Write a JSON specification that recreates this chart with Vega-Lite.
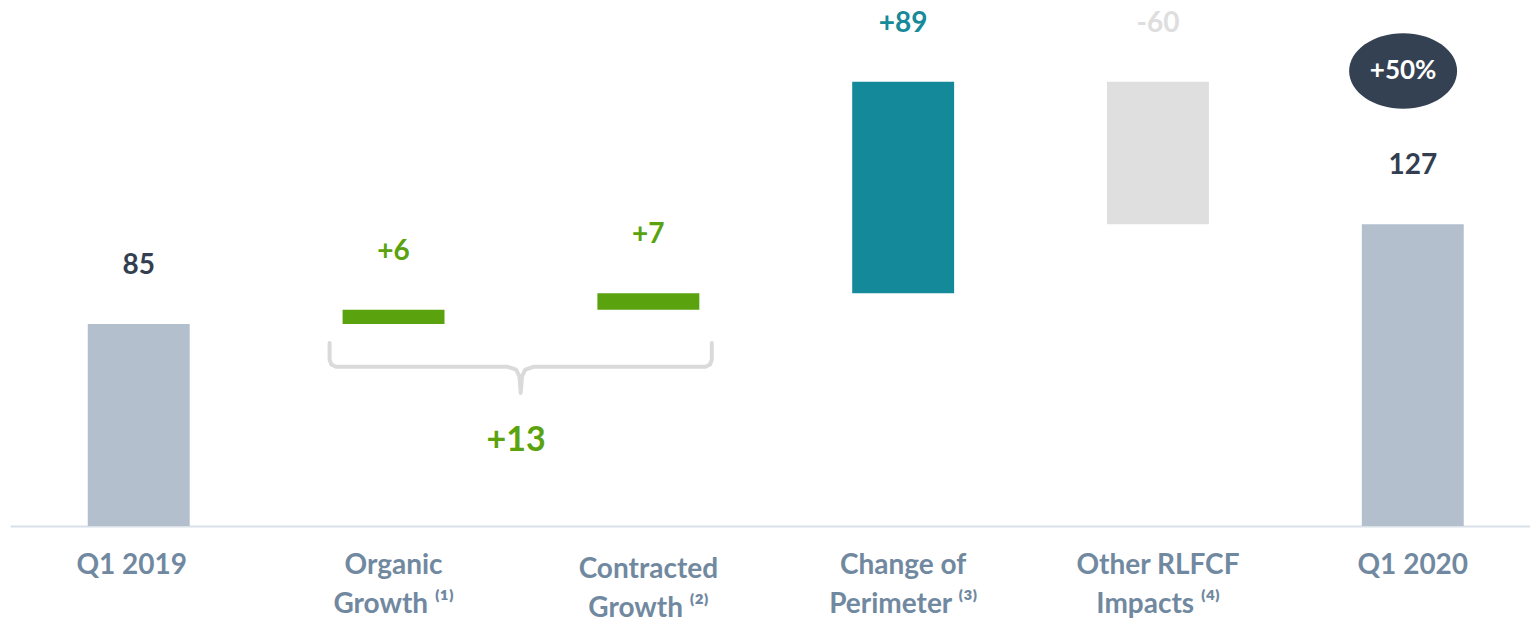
{
  "$schema": "https://vega.github.io/schema/vega-lite/v6.json",
  "width": 1520,
  "height": 526,
  "padding": {"left": 10, "top": 0, "right": 0, "bottom": 0},
  "background": "white",
  "config": {"view": {"stroke": null}, "font": "Lato"},
  "layer": [
    {
      "data": {
        "values": [
          {"step": "Q1 2019", "start": 0, "end": 85, "label": "85", "kind": "total"},
          {"step": "Organic Growth", "start": 85, "end": 91, "label": "+6", "kind": "green"},
          {"step": "Contracted Growth", "start": 91, "end": 98, "label": "+7", "kind": "green"},
          {"step": "Change of Perimeter", "start": 98, "end": 187, "label": "+89", "kind": "teal"},
          {"step": "Other RLFCF Impacts", "start": 187, "end": 127, "label": "-60", "kind": "gray"},
          {"step": "Q1 2020", "start": 0, "end": 127, "label": "127", "kind": "total"}
        ]
      },
      "transform": [{"calculate": "max(datum.start, datum.end)", "as": "top"}],
      "encoding": {
        "x": {
          "field": "step",
          "type": "nominal",
          "sort": null,
          "scale": {"paddingInner": 0.6, "paddingOuter": 0.2826, "align": 0.54},
          "axis": {
            "title": null,
            "ticks": false,
            "domainColor": "#d9e0e7",
            "domainWidth": 2,
            "labelFont": "Lato",
            "labelFontSize": 28,
            "labelFontWeight": "bold",
            "labelColor": "#7189a0",
            "labelPadding": {"condition": {"test": "datum.value === 'Contracted Growth'", "value": 29}, "value": 25},
            "labelOffset": {"condition": {"test": "datum.value === 'Q1 2019'", "value": -7}, "value": 0},
            "labelLineHeight": 39,
            "labelAngle": 0,
            "labelLimit": 0,
            "labelOverlap": false,
            "labelExpr": "datum.value == 'Organic Growth' ? ['Organic', 'Growth ⁽¹⁾'] : datum.value == 'Contracted Growth' ? ['Contracted', 'Growth ⁽²⁾'] : datum.value == 'Change of Perimeter' ? ['Change of', 'Perimeter ⁽³⁾'] : datum.value == 'Other RLFCF Impacts' ? ['Other RLFCF', 'Impacts ⁽⁴⁾'] : datum.label"
          }
        }
      },
      "layer": [
        {
          "mark": {"type": "bar"},
          "encoding": {
            "y": {"field": "start", "type": "quantitative", "scale": {"domain": [0, 221.4], "nice": false, "zero": true}, "axis": null},
            "y2": {"field": "end"},
            "color": {
              "field": "kind",
              "type": "nominal",
              "scale": {"domain": ["total", "green", "teal", "gray"], "range": ["#b3bfcd", "#5aa30f", "#148999", "#dfdfdf"]},
              "legend": null
            }
          }
        },
        {
          "mark": {"type": "text", "dy": -50, "baseline": "alphabetic", "fontSize": 28, "fontWeight": "bold", "font": "Lato"},
          "encoding": {
            "y": {"field": "top", "type": "quantitative", "scale": {"domain": [0, 221.4], "nice": false, "zero": true}, "axis": null},
            "text": {"field": "label"},
            "color": {
              "field": "kind",
              "type": "nominal",
              "scale": {"domain": ["total", "green", "teal", "gray"], "range": ["#333f50", "#5aa30f", "#168a99", "#dedede"]},
              "legend": null
            }
          }
        }
      ],
      "resolve": {"scale": {"color": "independent"}}
    },
    {
      "layer": [
        {
          "data": {
            "values": [
              {"pos": 0.75, "val": 77},
              {"pos": 0.75, "val": 70},
              {"pos": 0.757, "val": 68},
              {"pos": 0.775, "val": 67},
              {"pos": 1.45, "val": 67},
              {"pos": 1.482, "val": 65.8},
              {"pos": 1.495, "val": 63},
              {"pos": 1.5, "val": 56},
              {"pos": 1.505, "val": 63},
              {"pos": 1.518, "val": 65.8},
              {"pos": 1.55, "val": 67},
              {"pos": 2.225, "val": 67},
              {"pos": 2.243, "val": 68},
              {"pos": 2.25, "val": 70},
              {"pos": 2.2501, "val": 77}
            ]
          },
          "mark": {"type": "line", "strokeWidth": 4, "color": "#dadada", "strokeCap": "round", "strokeJoin": "round"},
          "encoding": {
            "x": {"field": "pos", "type": "quantitative", "scale": {"domain": [-0.5043, 5.461], "nice": false, "zero": false}, "axis": null},
            "y": {"field": "val", "type": "quantitative", "scale": {"domain": [0, 221.4], "nice": false, "zero": true}, "axis": null}
          }
        },
        {
          "data": {"values": [{"pos": 1.482, "val": 35.8, "label": "+13"}]},
          "mark": {"type": "text", "baseline": "middle", "fontSize": 34, "fontWeight": "bold", "font": "Lato", "color": "#5aa30f"},
          "encoding": {
            "x": {"field": "pos", "type": "quantitative", "scale": {"domain": [-0.5043, 5.461], "nice": false, "zero": false}, "axis": null},
            "y": {"field": "val", "type": "quantitative", "scale": {"domain": [0, 221.4], "nice": false, "zero": true}, "axis": null},
            "text": {"field": "label"}
          }
        },
        {
          "data": {"values": [{"pos": 4.963, "val": 191.5, "label": "+50%"}]},
          "encoding": {
            "x": {"field": "pos", "type": "quantitative", "scale": {"domain": [-0.5043, 5.461], "nice": false, "zero": false}, "axis": null},
            "y": {"field": "val", "type": "quantitative", "scale": {"domain": [0, 221.4], "nice": false, "zero": true}, "axis": null}
          },
          "layer": [
            {
              "mark": {"type": "point", "shape": "M-1,0A1,0.7,0,1,1,1,0A1,0.7,0,1,1,-1,0Z", "size": 11664, "filled": true, "color": "#344153", "opacity": 1, "strokeWidth": 0}
            },
            {
              "mark": {"type": "text", "baseline": "middle", "fontSize": 26, "fontWeight": "bold", "font": "Lato", "color": "white"},
              "encoding": {"text": {"field": "label"}}
            }
          ]
        }
      ]
    }
  ],
  "resolve": {"scale": {"x": "independent"}}
}
